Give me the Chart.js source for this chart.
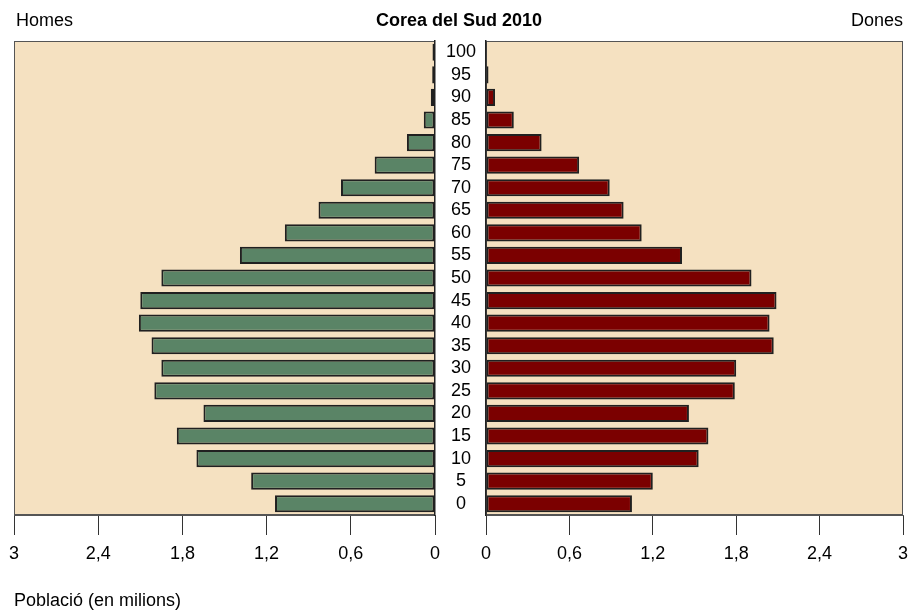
<!DOCTYPE html>
<html>
<head>
<meta charset="utf-8">
<script src="https://cdn.jsdelivr.net/npm/chart.js@4.4.1/dist/chart.umd.min.js"></script>
<style>
  html, body { margin: 0; padding: 0; background: #ffffff; }
  body { width: 911px; height: 610px; position: relative; overflow: hidden; font-family: "Liberation Sans", Arial, sans-serif; }
  .txt { position: absolute; font-size: 18px; line-height: 18px; color: #000; white-space: nowrap; }
  #wl { position: absolute; left: 0; top: 0; width: 450px; height: 610px; }
  #wr { position: absolute; left: 435px; top: 0; width: 490px; height: 610px; }
</style>
</head>
<body>
<div id="wl"><canvas id="left"></canvas></div>
<div id="wr"><canvas id="right"></canvas></div>
<div class="txt" style="left:16px; top:11px;">Homes</div>
<div class="txt" style="left:0; width:918px; text-align:center; top:11px; font-weight:bold;">Corea del Sud 2010</div>
<div class="txt" style="right:8px; top:11px;">Dones</div>
<div class="txt" style="left:14px; top:591px;">Població (en milions)</div>
<script>
// Age groups (lower bound of each 5-year band)
const ages = ['0','5','10','15','20','25','30','35','40','45','50','55','60','65','70','75','80','85','90','95','100'];
// Population in millions
const men   = [1.14, 1.31, 1.70, 1.84, 1.65, 2.00, 1.95, 2.02, 2.11, 2.10, 1.95, 1.39, 1.07, 0.83, 0.67, 0.43, 0.20, 0.08, 0.03, 0.02, 0.018];
const women = [1.05, 1.20, 1.53, 1.60, 1.46, 1.79, 1.80, 2.07, 2.04, 2.09, 1.91, 1.41, 1.12, 0.99, 0.89, 0.67, 0.40, 0.20, 0.065, 0.018, 0.0];
const xTicks = [0, 0.6, 1.2, 1.8, 2.4, 3];

const FONT = { family: '"Liberation Sans", Arial, sans-serif', size: 18 };
const fmt = v => Number(Number(v).toFixed(1)).toString().replace('.', ',');

const panelBg = {
  id: 'panelBg',
  beforeDraw(chart) {
    const { ctx, chartArea: a } = chart;
    ctx.save();
    ctx.fillStyle = '#F5E1C1';
    ctx.fillRect(a.left, a.top, a.right - a.left, a.bottom - a.top);
    ctx.strokeStyle = '#555555';
    ctx.lineWidth = 1;
    ctx.strokeRect(a.left + 0.5, a.top + 0.5, a.right - a.left - 1, a.bottom - a.top - 1);
    ctx.restore();
  }
};

function xScale(reverse) {
  return {
    type: 'linear', min: 0, max: 3, reverse: reverse,
    afterBuildTicks: s => { s.ticks = xTicks.map(v => ({ value: v })); },
    afterFit: s => { s.height = 95; },
    ticks: { callback: v => fmt(v), font: FONT, color: '#000', padding: 8, maxRotation: 0, autoSkip: false },
    grid: { drawOnChartArea: false, drawTicks: true, tickLength: 20, color: '#333', lineWidth: 1 },
    border: { display: true, color: '#555' }
  };
}

function makeChart(id, data, color, isLeft) {
  return new Chart(document.getElementById(id), {
    type: 'bar',
    data: {
      labels: ages,
      datasets: [{
        data: data,
        backgroundColor: color,
        borderColor: '#202020',
        borderWidth: 2,
        borderSkipped: false,
        barPercentage: 0.76,
        categoryPercentage: 1.0
      }]
    },
    options: {
      indexAxis: 'y',
      responsive: true,
      maintainAspectRatio: false,
      animation: false,
      layout: { padding: isLeft ? { left: 14, right: 15, top: 41, bottom: 0 } : { left: 0, right: 22, top: 41, bottom: 0 } },
      plugins: { legend: { display: false }, tooltip: { enabled: false } },
      scales: {
        x: xScale(isLeft),
        y: {
          type: 'category', reverse: true,
          position: isLeft ? 'right' : 'left',
          afterFit: s => { s.width = isLeft ? 0 : 51; },
          ticks: isLeft ? { display: false } : { display: true, font: { family: FONT.family, size: 18 }, color: '#000', padding: 10, crossAlign: 'center', autoSkip: false },
          grid: { display: false, drawTicks: false },
          border: { display: true, color: '#222', width: 1.5 }
        }
      }
    },
    plugins: [panelBg]
  });
}

makeChart('left', men, '#5A8466', true);
makeChart('right', women, '#7B0000', false);
</script>
</body>
</html>
